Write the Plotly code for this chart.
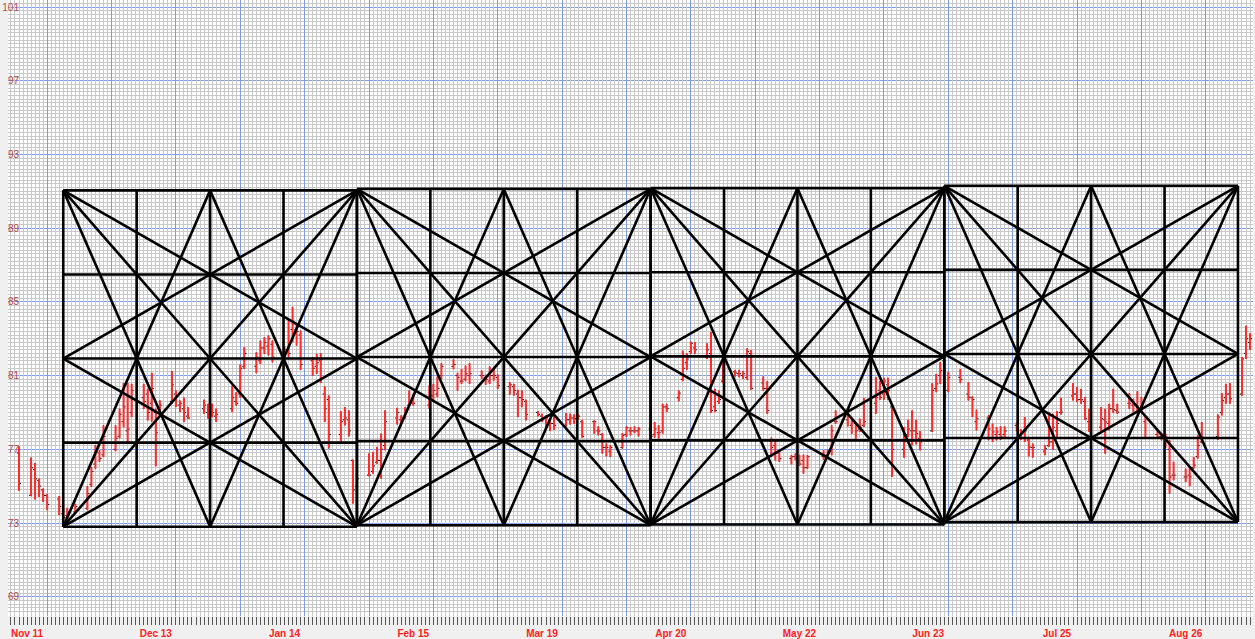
import pandas as pd
import plotly.graph_objects as go

# Trading days: weekdays from first_day to last_day, minus the days with no bar
first_day = "2018-11-09"
last_day = "2019-09-11"
no_bar_days = ["2018-11-22", "2018-12-24", "2018-12-31", "2019-02-18",
               "2019-05-27", "2019-07-02", "2019-09-02"]

# OHLC values, one line per week
opens = [
    76.8,
    74.5, 75.9, 75.3, 74.8, 74.5,
    74.3, 73.5, 73.4, 73.6,
    73.8, 75.1, 76.2, 76.8, 76.7,
    77.0, 77.7, 78.5, 78.0, 79.0,
    79.8, 80.0, 79.5, 79.0, 79.3,
    79.6, 80.0, 79.4, 79.2, 78.8,
    79.2, 79.0, 78.9, 78.8,
    79.2, 79.6, 80.0, 81.5,
    81.5, 81.8, 82.5, 82.6, 82.7,
    82.0, 82.3, 83.5, 83.5, 83.2,
    81.8, 81.5, 81.8, 80.0, 79.7,
    77.8, 78.6, 78.6, 76.4, 75.0,
    75.6, 75.8, 76.3, 76.4, 77.2,
    78.7, 78.6, 78.8, 79.4, 79.5,
    79.4, 79.9, 80.0, 81.0,
    81.5, 81.0, 80.7, 80.8, 81.0,
    81.0, 80.9, 80.7, 81.0, 80.9,
    80.4, 80.4, 80.0, 79.8, 79.6,
    79.0, 78.8, 78.7, 78.5, 78.4,
    78.3, 78.6, 78.7, 78.7, 78.5,
    78.5, 78.0, 77.8, 77.1, 76.9,
    77.1, 77.8, 78.0, 78.0, 78.0,
    78.1, 77.8, 77.9, 78.0, 79.3,
    79.8, 80.8, 81.7, 82.3, 82.5,
    82.0, 82.2, 79.3, 79.6, 80.7,
    81.2, 81.1, 81.0, 80.9, 82.2,
    80.6, 80.3, 77.5, 77.2, 76.8,
    76.5, 76.6, 76.4, 76.4, 76.0,
    76.6, 76.7, 76.9, 78.5,
    78.6, 78.3, 78.4, 78.1, 78.3,
    79.5, 80.2, 80.0, 80.5, 79.3,
    77.0, 77.8, 78.0, 78.0, 77.6,
    78.0, 80.3, 81.0, 81.8, 80.2,
    80.9, 80.0, 79.8, 78.5,
    78.7, 77.6, 77.8, 77.8, 77.8,
    78.3, 77.8, 77.6, 77.5, 77.1,
    76.9, 77.2, 77.4, 78.0, 79.0,
    79.9, 80.0, 79.7, 79.6, 78.5,
    78.2, 78.6, 78.4, 79.2, 79.1,
    79.5, 79.4, 79.4, 79.2, 78.5,
    77.8, 77.7, 77.7, 77.0, 75.6,
    75.5, 75.6, 76.0, 76.6, 77.4,
    77.7, 79.0, 79.8, 80.0,
    80.0, 82.2, 82.8,
]
highs = [
    77.16,
    76.55, 76.26, 75.41, 74.87, 74.57,
    74.46, 73.95, 73.82, 74.04,
    75.00, 76.04, 77.22, 76.95, 78.30,
    78.30, 79.20, 80.60, 80.60, 80.55,
    80.55, 80.28, 81.15, 79.20, 79.65,
    81.24, 80.19, 79.65, 79.80, 79.29,
    79.69, 79.47, 79.47, 79.20,
    80.46, 80.10, 81.60, 82.54,
    82.26, 82.90, 83.08, 83.17, 82.90,
    82.60, 83.98, 84.73, 83.80, 83.44,
    82.00, 82.18, 82.20, 80.41, 79.92,
    79.07, 79.29, 79.11, 76.44, 75.80,
    76.77, 76.86, 77.13, 77.85, 79.11,
    79.25, 78.84, 79.29, 80.19, 80.01,
    80.46, 80.55, 80.95, 81.67,
    81.87, 81.15, 81.36, 81.54, 81.67,
    81.27, 81.04, 81.49, 81.36, 81.06,
    80.64, 80.55, 80.23, 80.19, 79.69,
    79.07, 78.93, 78.84, 78.66, 78.84,
    78.97, 78.93, 78.89, 78.93, 78.60,
    78.57, 78.24, 77.88, 77.31, 77.22,
    77.88, 78.24, 78.21, 78.24, 78.20,
    78.75, 78.48, 78.30, 79.47, 79.47,
    80.19, 82.35, 82.21, 82.84, 82.81,
    82.75, 83.35, 80.28, 80.19, 82.09,
    81.31, 81.31, 81.24, 82.48, 82.39,
    80.95, 80.70, 77.63, 77.49, 76.95,
    76.68, 76.77, 76.70, 76.71, 76.68,
    76.95, 76.98, 78.30, 79.11,
    79.02, 78.57, 78.48, 78.66, 79.79,
    80.91, 80.70, 80.88, 80.88, 79.47,
    78.21, 78.60, 79.11, 78.60, 77.99,
    80.59, 81.09, 81.72, 82.18, 81.20,
    81.36, 80.64, 79.87, 79.15,
    78.84, 78.39, 78.21, 78.24, 78.24,
    78.48, 78.10, 78.75, 77.67, 77.31,
    77.22, 79.02, 78.93, 79.07, 79.79,
    80.59, 80.37, 80.28, 79.83, 79.20,
    79.29, 79.20, 79.47, 80.28, 79.47,
    80.05, 79.74, 80.15, 79.83, 78.78,
    77.99, 77.88, 77.85, 77.49, 76.32,
    75.95, 76.01, 76.58, 77.76, 78.48,
    78.89, 80.05, 80.55, 80.59,
    82.00, 83.70, 83.30,
]
lows = [
    74.75,
    74.46, 74.28, 74.42, 74.15, 73.70,
    73.43, 72.82, 73.20, 73.50,
    73.70, 74.96, 75.95, 76.32, 76.59,
    76.90, 77.60, 78.20, 77.40, 78.75,
    79.20, 78.57, 78.51, 76.08, 78.93,
    79.47, 79.29, 79.02, 78.48, 78.66,
    78.93, 78.66, 78.75, 78.48,
    79.02, 79.38, 79.80, 81.36,
    81.13, 81.63, 82.18, 82.09, 81.72,
    81.80, 82.00, 82.81, 82.63, 81.31,
    81.00, 81.09, 80.60, 78.48, 77.04,
    77.34, 78.30, 77.70, 74.06, 74.60,
    75.54, 75.68, 76.22, 75.41, 76.95,
    78.35, 78.39, 78.66, 79.33, 79.38,
    79.20, 79.69, 79.83, 80.82,
    81.35, 80.19, 80.55, 80.70, 80.55,
    80.82, 80.50, 80.55, 80.73, 80.28,
    79.97, 79.92, 78.75, 79.29, 78.57,
    78.79, 78.48, 78.12, 77.99, 78.06,
    78.24, 78.35, 78.39, 78.60, 77.63,
    77.85, 77.76, 76.77, 76.62, 76.59,
    77.04, 77.67, 77.76, 77.88, 77.70,
    77.58, 77.63, 77.58, 77.85, 79.02,
    79.61, 80.70, 81.31, 82.18, 82.18,
    81.90, 78.97, 79.02, 79.47, 80.59,
    80.95, 80.91, 80.82, 80.77, 80.23,
    80.19, 78.93, 76.60, 76.40, 76.32,
    76.19, 76.41, 76.10, 75.68, 75.95,
    76.44, 76.59, 76.68, 78.39,
    78.24, 77.85, 77.49, 77.94, 78.21,
    78.93, 79.69, 79.69, 79.69, 75.50,
    76.55, 77.67, 77.22, 77.27, 76.95,
    77.94, 80.10, 80.55, 79.51, 80.10,
    80.59, 79.65, 78.75, 78.03,
    77.49, 77.40, 77.49, 77.52, 77.63,
    77.97, 77.50, 77.40, 76.62, 76.55,
    76.68, 77.13, 76.98, 77.67, 78.89,
    79.65, 79.56, 79.47, 78.60, 77.94,
    77.99, 76.77, 78.03, 78.97, 78.93,
    79.20, 79.02, 78.93, 78.97, 77.67,
    77.58, 77.49, 77.09, 74.60, 75.32,
    75.23, 75.00, 75.95, 76.50, 77.34,
    77.52, 78.84, 79.47, 79.47,
    79.90, 81.90, 82.40,
]
closes = [
    75.14,
    76.00, 75.40, 75.00, 74.50, 74.00,
    73.90, 73.30, 73.60, 73.90,
    74.60, 75.80, 76.90, 76.50, 77.70,
    77.60, 78.90, 79.30, 78.10, 80.20,
    79.60, 79.00, 80.30, 77.90, 79.40,
    80.50, 79.90, 79.50, 79.00, 78.70,
    79.40, 78.90, 79.00, 78.90,
    79.80, 79.50, 81.40, 82.20,
    82.00, 82.50, 82.80, 83.00, 82.00,
    82.40, 82.20, 83.80, 83.40, 81.60,
    81.40, 81.70, 81.90, 79.20, 77.80,
    78.50, 78.70, 78.00, 74.80, 75.40,
    75.60, 76.10, 76.40, 77.00, 78.50,
    79.00, 78.70, 79.00, 79.50, 79.50,
    79.70, 80.20, 80.30, 81.50,
    81.60, 80.90, 80.70, 81.10, 81.10,
    81.00, 80.80, 81.00, 81.00, 80.46,
    80.50, 80.20, 79.80, 79.70, 78.90,
    78.90, 78.60, 78.70, 78.40, 78.30,
    78.60, 78.70, 78.66, 78.80, 77.70,
    78.50, 77.99, 77.10, 77.10, 77.10,
    77.76, 78.17, 78.00, 78.00, 78.10,
    77.70, 78.10, 77.90, 79.30, 79.20,
    80.05, 81.40, 81.90, 82.75, 82.40,
    82.40, 79.10, 79.10, 79.70, 81.10,
    81.14, 81.10, 81.10, 82.30, 80.30,
    80.30, 79.10, 77.10, 76.80, 76.50,
    76.60, 76.50, 76.20, 76.00, 76.60,
    76.60, 76.80, 78.00, 78.50,
    78.90, 78.50, 78.00, 78.20, 78.50,
    79.80, 79.80, 80.70, 80.20, 77.00,
    77.40, 78.10, 78.00, 77.85, 77.40,
    80.20, 80.55, 81.27, 79.90, 80.90,
    80.80, 79.83, 79.70, 78.66,
    78.10, 77.94, 77.94, 77.67, 77.99,
    78.10, 77.60, 78.00, 77.13, 77.10,
    77.04, 77.40, 78.20, 78.40, 79.02,
    80.00, 79.69, 79.69, 78.66, 78.03,
    78.66, 78.48, 79.20, 79.15, 79.02,
    79.50, 79.47, 79.20, 79.20, 78.66,
    77.67, 77.76, 77.67, 75.50, 75.60,
    75.50, 75.50, 76.14, 77.20, 77.67,
    78.75, 79.65, 80.00, 79.74,
    81.90, 83.00, 83.00,
]

# Square boxes (73 calendar days wide), start/end dates and price range
box_start = ["2018-11-20", "2019-02-01", "2019-04-15", "2019-06-27"]
box_end = ["2019-02-01", "2019-04-15", "2019-06-27", "2019-09-08"]
box_low = [72.80, 72.88, 72.92, 73.05]
box_high = [91.05, 91.13, 91.17, 91.30]

price_ticks = [69, 73, 77, 81, 85, 89, 93, 97, 101]
date_ticks = ["2018-11-11", "2018-12-13", "2019-01-14", "2019-02-15", "2019-03-19",
              "2019-04-20", "2019-05-22", "2019-06-23", "2019-07-25", "2019-08-26"]
date_labels = ["Nov 11", "Dec 13", "Jan 14", "Feb 15", "Mar 19",
               "Apr 20", "May 22", "Jun 23", "Jul 25", "Aug 26"]

days = pd.bdate_range(first_day, last_day)
days = days[~days.isin(pd.to_datetime(no_bar_days))]

DAY_MS = 86400000
BLUE = "#7f9be6"
GRAY = "#c9c9c9"

fig = go.Figure()

# open/close ticks (black), stems are covered by the red high-low lines
fig.add_trace(go.Ohlc(
    x=days, open=opens, high=highs, low=lows, close=closes,
    increasing=dict(line=dict(color="black", width=1)),
    decreasing=dict(line=dict(color="black", width=1)),
    tickwidth=0.5, hoverinfo="skip", showlegend=False
))

stem_x, stem_y = [], []
for d, h, l in zip(days, highs, lows):
    stem_x += [d, d, None]
    stem_y += [h, l, None]
fig.add_trace(go.Scatter(
    x=stem_x, y=stem_y, mode="lines",
    line=dict(color="#ff2b2b", width=2),
    hoverinfo="skip", showlegend=False
))

# Gann style boxes: quarter grid plus fan lines from the corners
line_x, line_y = [], []


def add_seg(p, q):
    line_x.extend([p[0], q[0], None])
    line_y.extend([p[1], q[1], None])


for s, e, lo, hi in zip(box_start, box_end, box_low, box_high):
    t0, t1 = pd.Timestamp(s), pd.Timestamp(e)
    xs = [t0 + (t1 - t0) * k / 4 for k in range(5)]
    ys = [lo + (hi - lo) * k / 4 for k in range(5)]
    for k in range(5):
        add_seg((xs[k], ys[0]), (xs[k], ys[4]))
        add_seg((xs[0], ys[k]), (xs[4], ys[k]))
    tl, tr, bl, br = (xs[0], ys[4]), (xs[4], ys[4]), (xs[0], ys[0]), (xs[4], ys[0])
    ml, mr, tm, bm = (xs[0], ys[2]), (xs[4], ys[2]), (xs[2], ys[4]), (xs[2], ys[0])
    add_seg(tl, br)
    add_seg(bl, tr)
    add_seg(tl, mr)
    add_seg(bl, mr)
    add_seg(tr, ml)
    add_seg(br, ml)
    add_seg(tl, bm)
    add_seg(tr, bm)
    add_seg(bl, tm)
    add_seg(br, tm)

fig.add_trace(go.Scatter(
    x=line_x, y=line_y, mode="lines",
    line=dict(color="black", width=2.6),
    hoverinfo="skip", showlegend=False
))

# empty traces so the overlay axes (day grid and 16-day grid) get drawn
fig.add_trace(go.Scatter(x=[], y=[], xaxis="x2", showlegend=False))
fig.add_trace(go.Scatter(x=[], y=[], xaxis="x3", showlegend=False))

x_range = ["2018-11-06 06:20", "2019-09-11 17:45"]

fig.update_layout(
    width=1255, height=639,
    margin=dict(l=8, r=2, t=0, b=21),
    paper_bgcolor="#f0f0f0",
    plot_bgcolor="white",
    showlegend=False,
    xaxis=dict(
        type="date", range=x_range,
        tickmode="array", tickvals=date_ticks, ticktext=date_labels,
        tickfont=dict(family="Arial", size=10, color="#ff2020", weight="bold"),
        ticks="outside", ticklen=8, tickcolor="black",
        ticklabeloverflow="allow",
        showgrid=False, zeroline=False, showline=False,
        rangeslider=dict(visible=False),
    ),
    xaxis2=dict(
        type="date", overlaying="x", matches="x", anchor="y",
        tickmode="linear", tick0=first_day, dtick=DAY_MS,
        ticks="outside", ticklen=8, tickcolor="#555555",
        showticklabels=False, showgrid=True, gridcolor=GRAY, gridwidth=1,
        zeroline=False,
    ),
    xaxis3=dict(
        type="date", overlaying="x", matches="x", anchor="y",
        tickmode="linear", tick0="2018-11-16", dtick=16 * DAY_MS,
        ticks="", showticklabels=False,
        showgrid=True, gridcolor=BLUE, gridwidth=1, zeroline=False,
    ),
    yaxis=dict(
        range=[67.955, 101.38],
        tickmode="array", tickvals=price_ticks,
        ticks="", ticklabelstandoff=-12, ticklabeloverflow="allow",
        tickfont=dict(family="Arial", size=10, color="#b04a4a"),
        showgrid=True, gridcolor=BLUE, gridwidth=1,
        minor=dict(dtick=0.2, tick0=69, showgrid=True, gridcolor=GRAY, gridwidth=1),
        zeroline=False, showline=False,
    ),
)

# the page body has a default margin; remove it so the chart fills the window
fig.write_html("out.html", config={"displayModeBar": False},
               post_script="document.body.style.margin='0';")
